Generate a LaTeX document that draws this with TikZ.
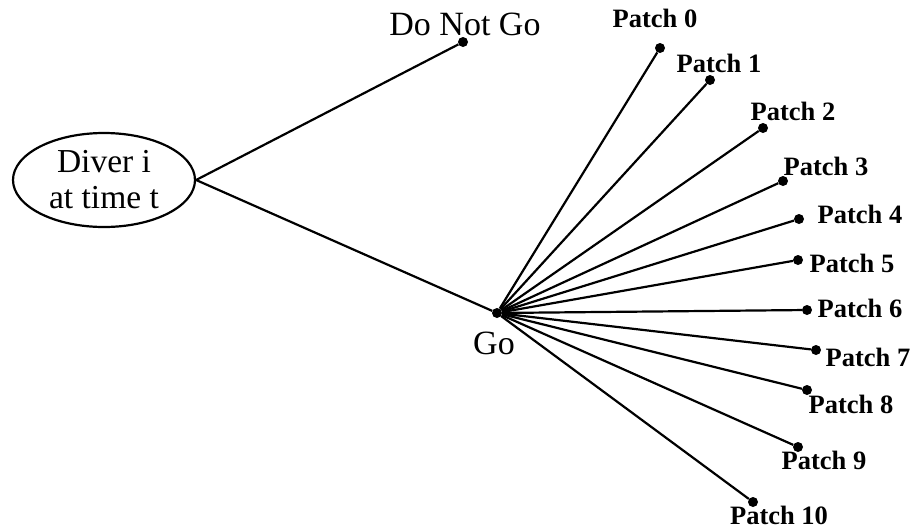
\documentclass[tikz,border=0pt]{standalone}
\usepackage{fontspec}
\setmainfont{Liberation Serif}
\usetikzlibrary{shapes.geometric}
\begin{document}
\begin{tikzpicture}[x=1pt,y=-1pt,
  link/.style={line width=2.2pt},
  dot/.style={circle,fill=black,inner sep=0pt,minimum size=10pt},
  plabel/.style={font=\fontsize{26.5}{28}\selectfont\bfseries,inner sep=0pt},
  blabel/.style={font=\fontsize{34}{38}\selectfont,inner sep=0pt}]
\useasboundingbox (0,0) rectangle (914,528);

% decision node
\node[draw,ellipse,line width=2.2pt,minimum width=182pt,minimum height=94pt,
      align=center,font=\fontsize{33.5}{36}\selectfont,inner sep=0pt]
  (diver) at (104,180) {Diver i\\at time t};

% first-level outcomes
\node[dot] (nogo) at (463,42) {};
\node[dot] (go) at (497,313) {};
\node[blabel] at (465,24) {Do Not Go};
\node[blabel] at (494,343) {Go};
\draw[link] (diver.east) -- (nogo);
\draw[link] (diver.east) -- (go);

% patches reachable from Go
\foreach \i/\px/\py/\lx/\ly in {
  0/660/48/655/18,
  1/710/80/719/63,
  2/763/128/793/111,
  3/783/181/826/166,
  4/799/219/860/214,
  5/798/260/852/263,
  6/807/310/860/308,
  7/816/350/868/357,
  8/807/390/851/404,
  9/798/447/824/460,
  10/753/502/779/515}{
  \node[dot] (p\i) at (\px,\py) {};
  \node[plabel] at (\lx,\ly) {Patch \i};
  \draw[link] (go) -- (p\i);
}
\end{tikzpicture}
\end{document}
